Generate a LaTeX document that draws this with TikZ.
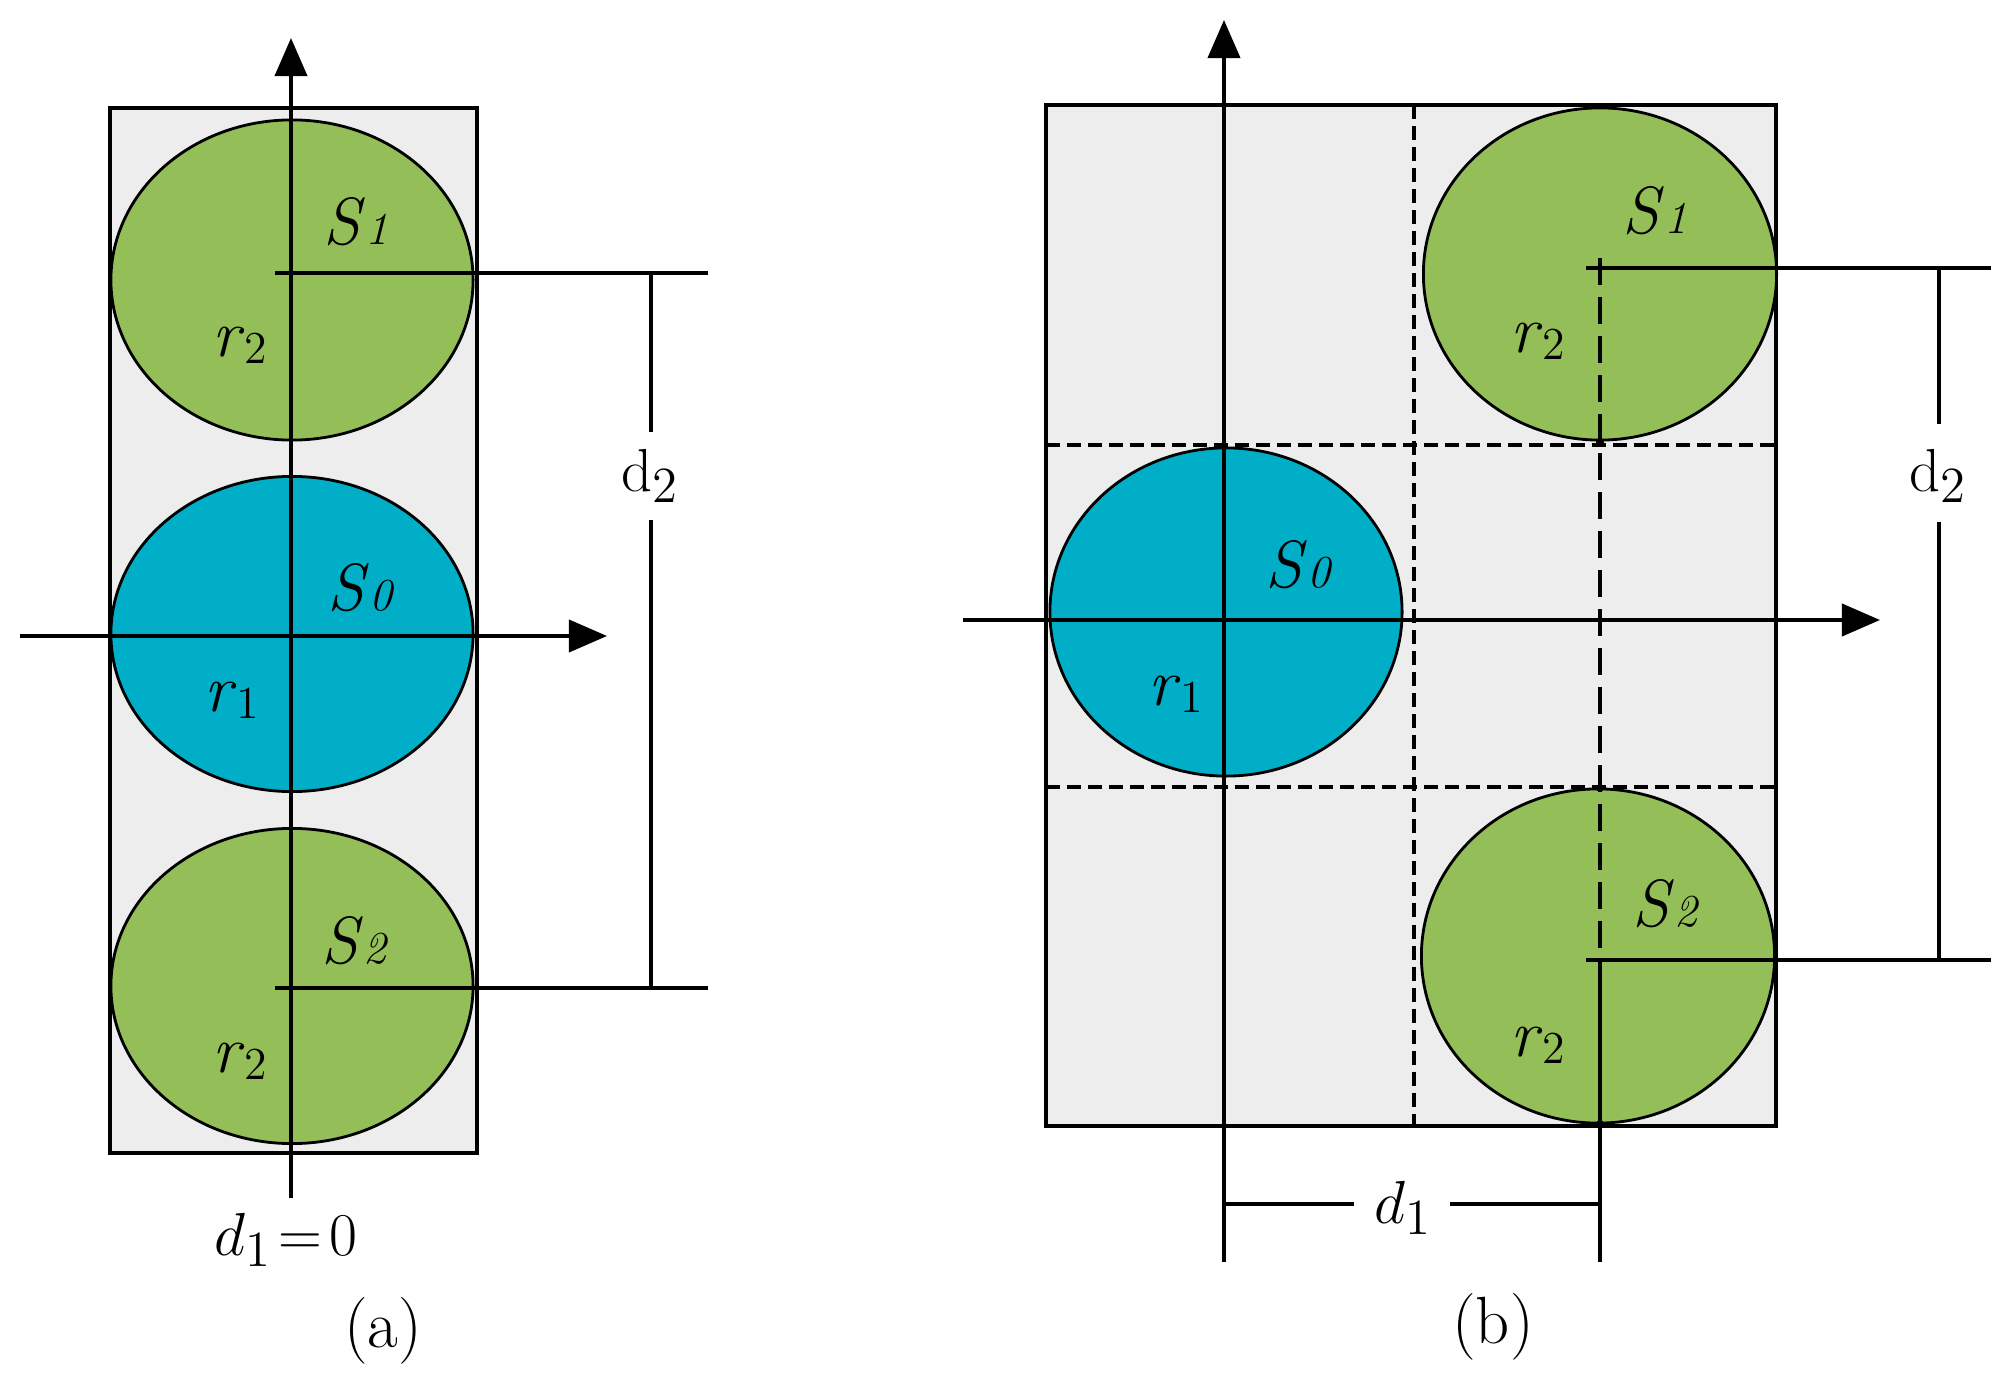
\documentclass[tikz,border=0pt]{standalone}
\usetikzlibrary{shapes.geometric,arrows.meta}
\definecolor{discgreen}{RGB}{148,190,88}
\definecolor{discblue}{RGB}{0,174,199}
\definecolor{boxgray}{RGB}{237,237,237}
\newcommand{\slab}[2]{\textit{#1}{\fontsize{13}{13}\selectfont\itshape #2}}
\newcommand{\rlab}[2]{\textit{#1}\raisebox{-2pt}{\fontsize{13}{13}\selectfont #2}}
\tikzset{
  axis/.style={line width=1.1pt,-{Triangle[length=0.38cm,width=0.32cm]}},
  ln/.style={line width=1.1pt},
  bx/.style={draw,line width=1.1pt,fill=boxgray},
  disc/.style={ellipse,draw,line width=0.8pt,inner sep=0pt},
  lbl/.style={font=\fontsize{19}{19}\selectfont,inner sep=0pt},
  dsh/.style={line width=1pt,dash pattern=on 0.14cm off 0.07cm},
  ldsh/.style={line width=1pt,dash pattern=on 0.27cm off 0.12cm},
  touch/.style={circle,fill=black,inner sep=0pt,minimum size=0.08cm}
}
\begin{document}
\begin{tikzpicture}[x=0.01cm,y=-0.01cm]
\useasboundingbox (0,0) rectangle (2005,1391);
% ================= panel (a) =================
\coordinate (aTL) at (110,108);
\coordinate (aBR) at (477,1153);
\draw[bx] (aTL) rectangle (aBR);
\node[disc,fill=discgreen,minimum width=3.62cm,minimum height=3.2cm] (aS1) at (292,280) {};
\node[disc,fill=discblue,minimum width=3.62cm,minimum height=3.15cm] (aS0) at (292,634) {};
\node[disc,fill=discgreen,minimum width=3.62cm,minimum height=3.15cm] (aS2) at (292,986) {};
% axes
\coordinate (aYb) at (291,1198);
\coordinate (aYt) at (291,38);
\coordinate (aXl) at (20,636);
\coordinate (aXr) at (607,636);
\draw[axis] (aYb) -- (aYt);
\draw[axis] (aXl) -- (aXr);
% center lines to dimension
\coordinate (aL1a) at (275,273);
\coordinate (aL1b) at (708,273);
\coordinate (aL2a) at (275,988);
\coordinate (aL2b) at (708,988);
\draw[ln] (aL1a) -- (aL1b);
\draw[ln] (aL2a) -- (aL2b);
% d2 dimension
\node[lbl] (ad2) at (650,476) {$\mathrm{d}_2$};
\coordinate (aD1) at (651,273);
\coordinate (aD2) at (651,988);
\draw[ln] (aD1) -- (651,432);
\draw[ln] (651,520) -- (aD2);
% labels
\node[lbl] (aS1l) at (356,222) {\slab{S}{1}};
\node[lbl] (ar2a) at (240,345) {\rlab{r}{2}};
\node[lbl] (aS0l) at (360,588) {\slab{S}{0}};
\node[lbl] (ar1) at (232,700) {\rlab{r}{1}};
\node[lbl] (aS2l) at (354,941) {\slab{S}{2}};
\node[lbl] (ar2b) at (240,1061) {\rlab{r}{2}};
\node[lbl] (ad1) at (286,1240) {$d_1\!=\!0$};
\node[lbl] (acap) at (383,1331) {(a)};
% ================= panel (b) =================
\coordinate (bTL) at (1046,105);
\coordinate (bBR) at (1776,1126);
\draw[bx] (bTL) rectangle (bBR);
% dashed grid
\draw[dsh] (1414,105) -- (1414,1126);
\draw[dsh] (1046,445) -- (1776,445);
\draw[dsh] (1046,787) -- (1776,787);
% discs
\node[disc,fill=discgreen,minimum width=3.53cm,minimum height=3.32cm] (bS1) at (1600,274) {};
\node[disc,fill=discblue,minimum width=3.52cm,minimum height=3.28cm] (bS0) at (1226,612) {};
\node[disc,fill=discgreen,minimum width=3.53cm,minimum height=3.34cm] (bS2) at (1598,956) {};
% axes
\coordinate (bYb) at (1224,1262);
\coordinate (bYt) at (1224,20);
\coordinate (bXl) at (963,620);
\coordinate (bXr) at (1880,620);
\draw[axis] (bYb) -- (bYt);
\draw[axis] (bXl) -- (bXr);
% centre lines
\coordinate (bC1) at (1600,268);
\coordinate (bC2) at (1600,960);
\coordinate (bE1) at (1991,268);
\coordinate (bE2) at (1991,960);
\draw[ln] (1586,268) -- (bE1);
\draw[ln] (1586,960) -- (bE2);
\draw[ldsh] (1600,258) -- (bC2);
\coordinate (bV2) at (1600,1262);
\draw[ln] (bC2) -- (bV2);
% touching points
\node[touch] (t1) at (1224,446) {};
\node[touch] (t2) at (1600,442) {};
\node[touch] (t3) at (1600,788) {};
\node[touch] (t4) at (1600,1124) {};
% d2 dimension
\node[lbl] (bd2) at (1938,476) {$\mathrm{d}_2$};
\coordinate (bD1) at (1939,268);
\coordinate (bD2) at (1939,960);
\draw[ln] (bD1) -- (1939,424);
\draw[ln] (1939,522) -- (bD2);
% d1 dimension
\node[lbl] (bd1) at (1403,1208) {$d_1$};
\coordinate (bH1) at (1224,1204);
\coordinate (bH2) at (1600,1204);
\coordinate (bG1) at (1354,1204);
\coordinate (bG2) at (1450,1204);
\draw[ln] (bH1) -- (bG1);
\draw[ln] (bG2) -- (bH2);
% labels
\node[lbl] (bS1l) at (1655,211) {\slab{S}{1}};
\node[lbl] (br2a) at (1538,341) {\rlab{r}{2}};
\node[lbl] (bS0l) at (1298,565) {\slab{S}{0}};
\node[lbl] (br1) at (1176,694) {\rlab{r}{1}};
\node[lbl] (bS2l) at (1665,904) {\slab{S}{2}};
\node[lbl] (br2b) at (1538,1045) {\rlab{r}{2}};
\node[lbl] (bcap) at (1493,1327) {(b)};
\end{tikzpicture}
\end{document}
